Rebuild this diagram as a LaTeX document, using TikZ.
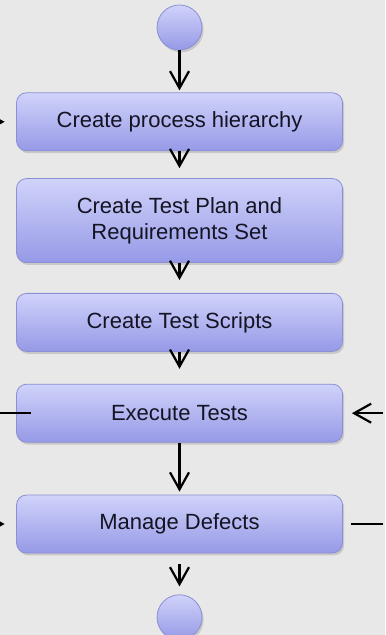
\documentclass[tikz,border=0pt]{standalone}
\usepackage{fontspec}
\setmainfont{Liberation Sans}
\usetikzlibrary{positioning,arrows.meta,shadows}
\definecolor{bggray}{RGB}{232,232,232}
\definecolor{boxtop}{RGB}{208,211,250}
\definecolor{boxbot}{RGB}{150,153,230}
\definecolor{boxedge}{RGB}{140,143,212}
\definecolor{textcol}{RGB}{20,20,35}

\begin{document}
\begin{tikzpicture}[
	x=0.5pt, y=-0.5pt,
	>={Straight Barb[length=8.5pt,width=9.5pt]},
	stepbox/.style = {
		shape=rectangle, rounded corners=5pt,
		draw=boxedge, line width=0.4pt, align=center,
		minimum width=163pt, minimum height=29pt,
		top color=boxtop, bottom color=boxbot,
		font=\fontsize{11}{13}\selectfont, text=textcol,
		drop shadow={shadow xshift=0.8pt, shadow yshift=-1.2pt, opacity=0.3}},
	terminal/.style = {
		shape=circle, draw=boxedge, line width=0.4pt,
		minimum size=22.5pt, inner sep=0pt,
		top color=boxtop, bottom color=boxbot,
		drop shadow={shadow xshift=0.8pt, shadow yshift=-1.2pt, opacity=0.3}},
	flow/.style = {->, line width=1.1pt, black}]
	\useasboundingbox (0,0) rectangle (385,635);
	\fill[bggray] (0,0) rectangle (385,635);
	\clip (0,0) rectangle (385,635);

	\node[terminal] (start) at (179.5,27.5) {};
	\node[stepbox, below=21pt of start] (hier) {Create process hierarchy};
	\node[stepbox, below=13.5pt of hier, minimum height=42pt] (plan) {Create Test Plan and\\Requirements Set};
	\node[stepbox, below=15pt of plan] (scripts) {Create Test Scripts};
	\node[stepbox, below=16pt of scripts] (exec) {Execute Tests};
	\node[stepbox, below=26pt of exec] (defects) {Manage Defects};
	\node[terminal, below=20.5pt of defects] (stop) {};

	% free ends outside the frame
	\coordinate[left=20pt of hier] (hierIn);
	\coordinate[left=20pt of exec] (execOut);
	\coordinate[right=20pt of exec] (execIn);
	\coordinate[left=20pt of defects] (defIn);
	\coordinate[right=20pt of defects] (defOut);

	\draw[flow, shorten >=1pt] (start) -- (hier);
	\draw[flow, shorten >=5pt] (hier) -- (plan);
	\draw[flow, shorten >=6.5pt] (plan) -- (scripts);
	\draw[flow, shorten >=7.5pt] (scripts) -- (exec);
	\draw[flow, shorten >=1.5pt] (exec) -- (defects);
	\draw[flow, shorten <=5.5pt, shorten >=4pt] (defects) -- (stop);

	\draw[flow, shorten >=5.75pt] (hierIn) -- (hier);
	\draw[flow, shorten >=5.75pt] (defIn) -- (defects);
	\draw[flow, shorten >=4.5pt] (execIn) -- (exec);
	\draw[line width=1.1pt] ([xshift=7.5pt]exec.west) -- (execOut);
	\draw[line width=1.1pt] ([xshift=4pt]defects.east) -- (defOut);
\end{tikzpicture}
\end{document}
